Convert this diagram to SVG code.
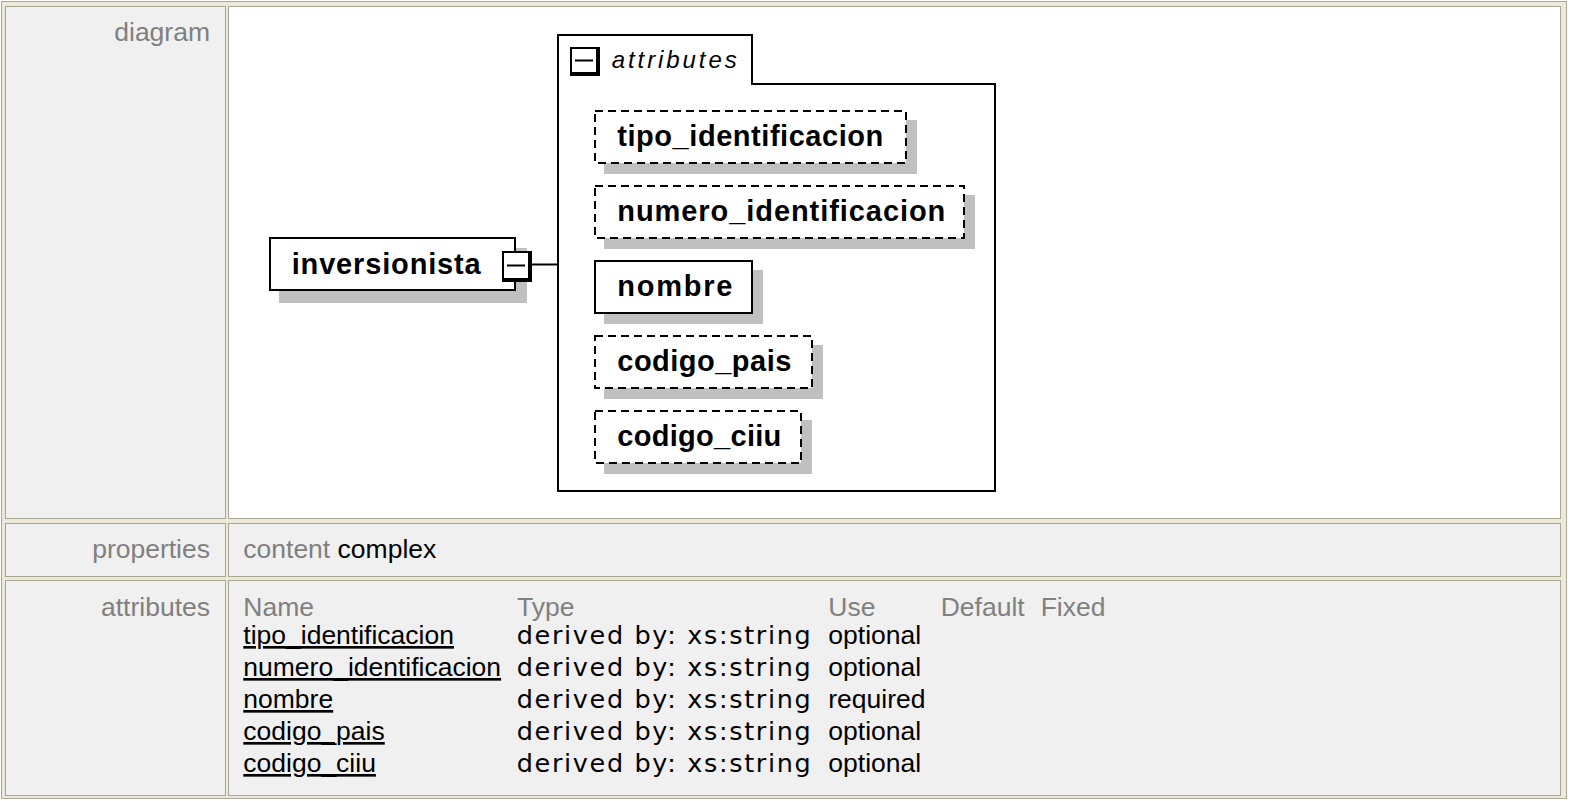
<svg xmlns="http://www.w3.org/2000/svg" width="1572" height="801" viewBox="0 0 1572 801">
<style>
.cellL{fill:#F0F0F0;stroke:#A8A593;stroke-width:1}
.cellG{fill:#F0F0F0;stroke:#A8A593;stroke-width:1}
.cellW{fill:#FFFFFF;stroke:#A8A593;stroke-width:1}
.lbl{font-family:"Liberation Sans",Arial,sans-serif;font-size:26.5px;fill:#808080;text-anchor:end}
.tx{font-family:"Liberation Sans",Arial,sans-serif;font-size:26.5px;fill:#000}
.gr{fill:#808080}
.lnk{text-decoration:underline}
.dv{font-family:"DejaVu Sans",Verdana,sans-serif;font-size:25.5px;fill:#000}
.box{fill:#FFFFFF;stroke:#000;stroke-width:2}
.dash{fill:#FFFFFF;stroke:#000;stroke-width:2;stroke-dasharray:8 5}
.shd{fill:#C0C0C0}
.nm{font-family:"Liberation Sans",Arial,sans-serif;font-weight:bold;font-size:29px;fill:#000}
.ital{font-family:"Liberation Sans",Arial,sans-serif;font-style:italic;font-size:24px;fill:#000}
.conn{stroke:#000;stroke-width:2;fill:none}
</style>
<rect x="0" y="0" width="1572" height="801" fill="#FFFFFF"/>
<rect x="1.5" y="1.5" width="1565" height="797" fill="#ECE9D8" stroke="#ACA899" stroke-width="1"/>
<g id="table">
<rect class="cellL" x="5.5" y="6.5" width="220" height="512"/>
<rect class="cellW" x="228.5" y="6.5" width="1332" height="512"/>
<rect class="cellL" x="5.5" y="523.5" width="220" height="53"/>
<rect class="cellG" x="228.5" y="523.5" width="1332" height="53"/>
<rect class="cellL" x="5.5" y="580.5" width="220" height="215"/>
<rect class="cellG" x="228.5" y="580.5" width="1332" height="215"/>
<text class="lbl" x="210" y="41">diagram</text>
<text class="lbl" x="210" y="558">properties</text>
<text class="lbl" x="210" y="616">attributes</text>
<text class="tx" x="243.3" y="558"><tspan class="gr">content</tspan> complex</text>
<text class="tx gr" x="243.3" y="616">Name</text>
<text class="tx gr" x="517" y="616">Type</text>
<text class="tx gr" x="828.3" y="616">Use</text>
<text class="tx gr" x="940.7" y="616">Default</text>
<text class="tx gr" x="1040.7" y="616">Fixed</text>
<text class="tx lnk" x="243.3" y="644">tipo_identificacion</text>
<text class="tx lnk" x="243.3" y="676">numero_identificacion</text>
<text class="tx lnk" x="243.3" y="708">nombre</text>
<text class="tx lnk" x="243.3" y="740">codigo_pais</text>
<text class="tx lnk" x="243.3" y="772">codigo_ciiu</text>
<text class="dv" x="516.7" y="644" textLength="294" lengthAdjust="spacing">derived by: xs:string</text>
<text class="dv" x="516.7" y="676" textLength="294" lengthAdjust="spacing">derived by: xs:string</text>
<text class="dv" x="516.7" y="708" textLength="294" lengthAdjust="spacing">derived by: xs:string</text>
<text class="dv" x="516.7" y="740" textLength="294" lengthAdjust="spacing">derived by: xs:string</text>
<text class="dv" x="516.7" y="772" textLength="294" lengthAdjust="spacing">derived by: xs:string</text>
<text class="tx" x="828.3" y="644">optional</text>
<text class="tx" x="828.3" y="676">optional</text>
<text class="tx" x="828.3" y="708">required</text>
<text class="tx" x="828.3" y="740">optional</text>
<text class="tx" x="828.3" y="772">optional</text>
</g>
<g id="connectors">
<line class="conn" x1="532" y1="264.5" x2="558" y2="264.5"/>
</g>
<g id="attributes-group">
<path class="conn" d="M558,35 H752 V84 H995 V491 H558 Z" fill="#FFFFFF"/>
<rect x="570" y="47" width="30" height="29" fill="#000"/>
<rect x="572" y="49" width="24" height="23" fill="#FFFFFF"/>
<line x1="575" y1="60.5" x2="593" y2="60.5" stroke="#000" stroke-width="2"/>
<text class="ital" x="611.7" y="68" textLength="125" lengthAdjust="spacing">attributes</text>
</g>
<g id="node-inversionista">
<rect class="shd" x="279" y="248" width="248" height="55"/>
<rect class="box" x="270" y="238" width="245" height="52"/>
<text class="nm" x="291.7" y="274" textLength="189" lengthAdjust="spacing">inversionista</text>
<rect x="502" y="251" width="30" height="31" fill="#000"/>
<rect x="504" y="253" width="24" height="25" fill="#FFFFFF"/>
<line x1="507" y1="265.5" x2="525" y2="265.5" stroke="#000" stroke-width="2"/>
</g>
<g id="node-tipo_identificacion">
<rect class="shd" x="604" y="120" width="313" height="54"/>
<rect class="dash" x="595" y="111" width="311" height="52"/>
<text class="nm" x="617.3" y="146" textLength="266" lengthAdjust="spacing">tipo_identificacion</text>
</g>
<g id="node-numero_identificacion">
<rect class="shd" x="604" y="195" width="371" height="54"/>
<rect class="dash" x="595" y="186" width="369" height="52"/>
<text class="nm" x="617.3" y="221" textLength="328" lengthAdjust="spacing">numero_identificacion</text>
</g>
<g id="node-nombre">
<rect class="shd" x="604" y="270" width="159" height="54"/>
<rect class="box" x="595" y="261" width="157" height="52"/>
<text class="nm" x="617.3" y="296" textLength="115" lengthAdjust="spacing">nombre</text>
</g>
<g id="node-codigo_pais">
<rect class="shd" x="604" y="345" width="219" height="54"/>
<rect class="dash" x="595" y="336" width="217" height="52"/>
<text class="nm" x="617.3" y="371" textLength="174" lengthAdjust="spacing">codigo_pais</text>
</g>
<g id="node-codigo_ciiu">
<rect class="shd" x="604" y="420" width="208" height="54"/>
<rect class="dash" x="595" y="411" width="206" height="52"/>
<text class="nm" x="617.3" y="446" textLength="164" lengthAdjust="spacing">codigo_ciiu</text>
</g>
</svg>
